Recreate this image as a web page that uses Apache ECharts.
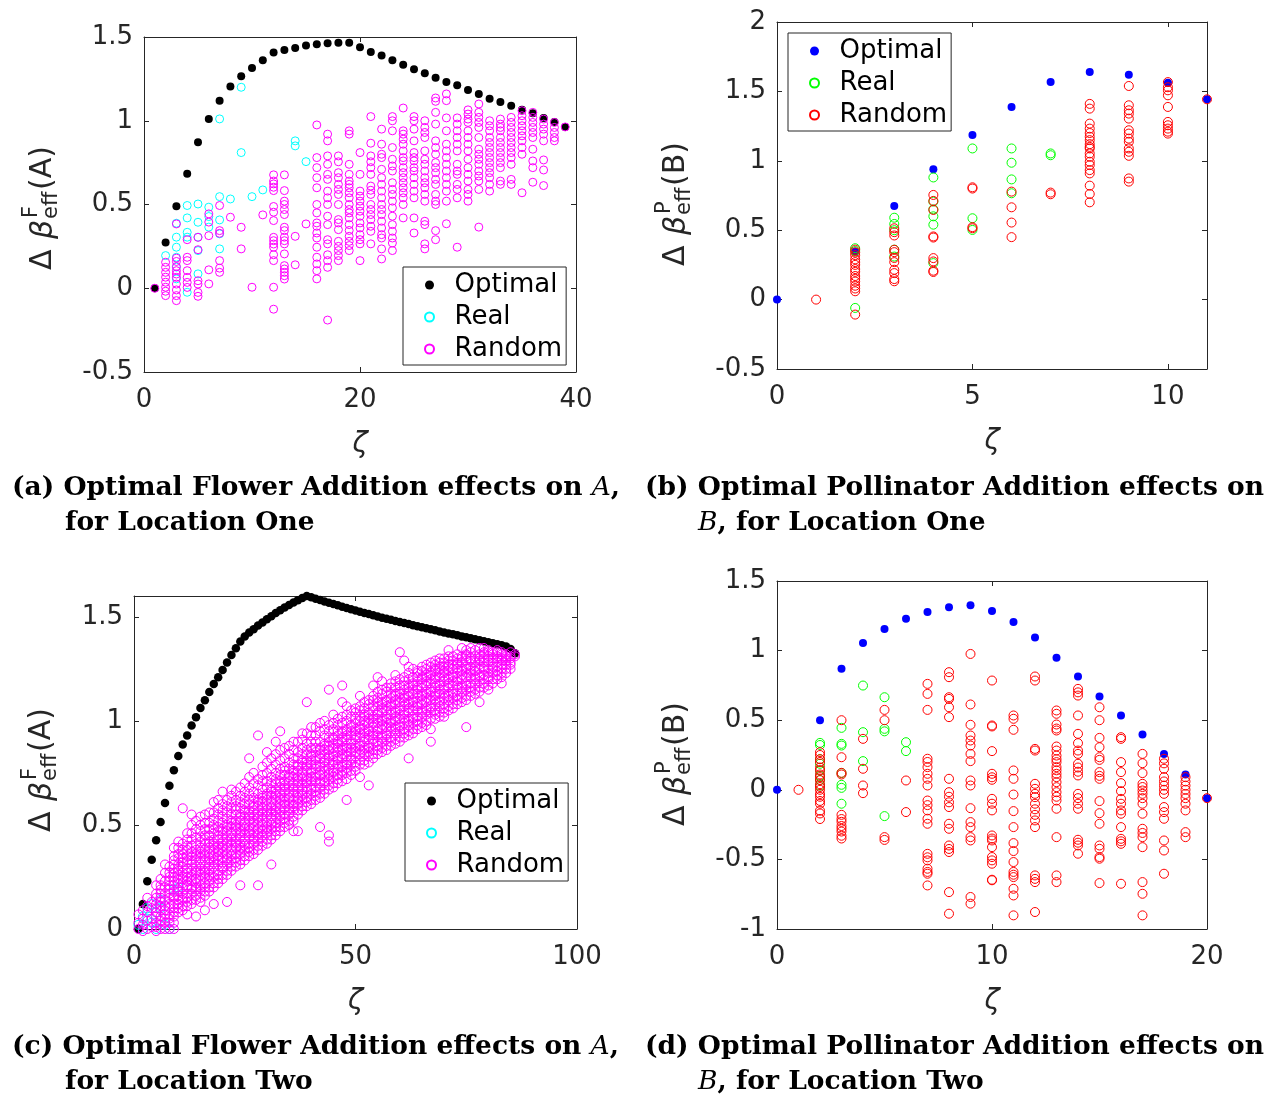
<!DOCTYPE html>
<html><head><meta charset="utf-8">
<script src="https://cdn.jsdelivr.net/npm/echarts@6/dist/echarts.min.js"></script>
<style>html,body{margin:0;padding:0;background:#fff}#chart{width:1272px;height:1097px}</style>
</head><body><div id="chart"></div>
<script>
// ---------- (a) flower addition, location one : zeta = 1..39 ----------
const aOptimal = [0, 0.273, 0.49, 0.683, 0.872, 1.01, 1.12, 1.204, 1.266, 1.315, 1.361, 1.407, 1.423, 1.435, 1.449, 1.457, 1.463, 1.465, 1.465, 1.439, 1.411, 1.389, 1.361, 1.335, 1.307, 1.284, 1.256, 1.232, 1.212, 1.184, 1.16, 1.132, 1.112, 1.089, 1.065, 1.045, 1.017, 0.993, 0.963];
const aReal = [
  [2, [0.195]], [3, [0.388, 0.305, 0.245, 0.185, 0.126, 0.056]], [4, [0.494, 0.42, 0.334, 0.305, -0.024]],
  [5, [0.503, 0.394, 0.305, 0.225, 0.086]], [6, [0.484, 0.428, 0.365]], [7, [1.011, 0.547, 0.408, 0.325, 0.235]],
  [8, [0.533]], [9, [1.2, 0.81]], [10, [0.547]], [11, [0.587]], [14, [0.88, 0.85]], [15, [0.756]]
];
const aRandom = [
  [1, [0]],
  [2, [0.155, 0.125, 0.095, 0.066, 0.036, 0.006, -0.018, -0.044]],
  [3, [0.384, 0.18, 0.16, 0.13, 0.105, 0.085, 0.065, 0.025, -0.01, -0.044, -0.074]],
  [4, [0.29, 0.185, 0.165, 0.105, 0.065, 0.035, 0.005]],
  [5, [0.304, 0.23, 0.045, 0.025, -0.025, -0.048]],
  [6, [0.444, 0.395, 0.314, 0.11, 0.026]],
  [7, [0.494, 0.344, 0.328, 0.165, 0.12, 0.095]],
  [8, [0.424]], [9, [0.364, 0.235]], [10, [0.006]], [11, [0.438]],
  [12, [0.677, 0.64, 0.623, 0.603, 0.583, 0.488, 0.454, 0.404, 0.304, 0.284, 0.264, 0.245, 0.2, 0.165, 0.006, -0.125]],
  [13, [0.677, 0.583, 0.52, 0.5, 0.47, 0.44, 0.364, 0.344, 0.305, 0.284, 0.265, 0.205, 0.135, 0.115, 0.095, 0.075, 0.055]],
  [14, [0.31, 0.14]], [15, [0.384]],
  [16, [0.975, 0.78, 0.72, 0.66, 0.6, 0.5, 0.45, 0.39, 0.37, 0.33, 0.3, 0.245, 0.185, 0.145, 0.105, 0.056]],
  [17, [0.92, 0.88, 0.79, 0.74, 0.68, 0.65, 0.58, 0.54, 0.5, 0.43, 0.38, 0.29, 0.265, 0.2, 0.165, 0.125, -0.19]],
  [18, [0.79, 0.755, 0.69, 0.66, 0.62, 0.59, 0.56, 0.5, 0.41, 0.39, 0.35, 0.28, 0.25, 0.225, 0.195, 0.165]],
  [19, [0.94, 0.92, 0.74, 0.68, 0.64, 0.62, 0.6, 0.57, 0.54, 0.5, 0.47, 0.45, 0.42, 0.38, 0.345, 0.31, 0.28, 0.255, 0.225]],
  [20, [0.81, 0.68, 0.58, 0.55, 0.52, 0.49, 0.46, 0.43, 0.39, 0.36, 0.32, 0.29, 0.265, 0.165]],
  [21, [1.025, 0.866, 0.79, 0.755, 0.72, 0.68, 0.61, 0.585, 0.56, 0.5, 0.47, 0.44, 0.41, 0.37, 0.34, 0.265]],
  [22, [0.95, 0.86, 0.8, 0.78, 0.71, 0.66, 0.62, 0.58, 0.54, 0.5, 0.47, 0.44, 0.4, 0.36, 0.32, 0.3, 0.235, 0.175]],
  [23, [1.025, 1.0, 0.94, 0.84, 0.77, 0.73, 0.7, 0.63, 0.59, 0.56, 0.52, 0.48, 0.43, 0.38, 0.34, 0.3, 0.27, 0.225]],
  [24, [1.076, 0.94, 0.92, 0.89, 0.86, 0.82, 0.78, 0.76, 0.72, 0.69, 0.66, 0.63, 0.6, 0.57, 0.54, 0.5, 0.42]],
  [25, [1.025, 1.0, 0.95, 0.88, 0.81, 0.78, 0.76, 0.72, 0.7, 0.66, 0.62, 0.58, 0.54, 0.42, 0.33]],
  [26, [1.0, 0.96, 0.93, 0.9, 0.82, 0.77, 0.74, 0.7, 0.66, 0.63, 0.6, 0.56, 0.52, 0.4, 0.38, 0.265, 0.235]],
  [27, [1.136, 1.116, 1.05, 0.98, 0.88, 0.84, 0.8, 0.75, 0.72, 0.69, 0.65, 0.62, 0.56, 0.52, 0.5, 0.344, 0.29]],
  [28, [1.16, 1.12, 1.017, 0.94, 0.86, 0.82, 0.78, 0.74, 0.7, 0.66, 0.62, 0.58, 0.52, 0.385]],
  [29, [1.017, 0.98, 0.94, 0.9, 0.86, 0.82, 0.74, 0.7, 0.68, 0.62, 0.59, 0.54, 0.245]],
  [30, [1.065, 1.04, 1.01, 0.99, 0.94, 0.9, 0.86, 0.82, 0.77, 0.72, 0.68, 0.64, 0.59, 0.56, 0.52]],
  [31, [1.1, 1.05, 1.02, 0.99, 0.96, 0.9, 0.83, 0.8, 0.77, 0.74, 0.7, 0.67, 0.64, 0.59, 0.365]],
  [32, [1.0, 0.97, 0.94, 0.9, 0.87, 0.84, 0.81, 0.78, 0.75, 0.72, 0.69, 0.66, 0.62, 0.58]],
  [33, [1.01, 0.98, 0.96, 0.94, 0.9, 0.87, 0.84, 0.81, 0.78, 0.75, 0.72, 0.64, 0.62]],
  [34, [1.02, 0.99, 0.96, 0.93, 0.9, 0.87, 0.84, 0.81, 0.78, 0.74, 0.65, 0.62]],
  [35, [1.06, 1.03, 1.0, 0.97, 0.94, 0.91, 0.88, 0.84, 0.8, 0.57]],
  [36, [1.05, 1.02, 0.99, 0.96, 0.93, 0.9, 0.83, 0.76, 0.72, 0.633]],
  [37, [1.01, 0.98, 0.95, 0.92, 0.88, 0.766, 0.706, 0.613]],
  [38, [0.99, 0.96, 0.93, 0.9, 0.88]],
  [39, [0.963]]
];

// ---------- (b) pollinator addition, location one ----------
const bOptimal = [[0, 0], [2, 0.347], [3, 0.675], [4, 0.94], [5, 1.185], [6, 1.388], [7, 1.567], [8, 1.639], [9, 1.62], [10, 1.563], [11, 1.443]];
const bReal = [
  [2, [0.37, 0.35, -0.06]], [3, [0.59, 0.545, 0.5, 0.36, 0.31]], [4, [0.88, 0.706, 0.65, 0.6, 0.54, 0.263]],
  [5, [1.089, 0.586, 0.502]], [6, [1.089, 0.986, 0.866, 0.766]], [7, [1.053, 1.04]]
];
const bRandom = [
  [1, [0]],
  [2, [0.36, 0.34, 0.32, 0.29, 0.27, 0.25, 0.22, 0.2, 0.17, 0.15, 0.13, 0.1, 0.08, 0.06, -0.108]],
  [3, [0.514, 0.486, 0.462, 0.359, 0.342, 0.3, 0.27, 0.215, 0.191, 0.148, 0.132]],
  [4, [0.754, 0.711, 0.646, 0.455, 0.447, 0.299, 0.275, 0.208, 0.199]],
  [5, [0.809, 0.8, 0.522, 0.514]],
  [6, [0.778, 0.665, 0.555, 0.45]],
  [7, [0.771, 0.759]],
  [8, [1.41, 1.376, 1.268, 1.232, 1.2, 1.173, 1.149, 1.12, 1.1, 1.089, 1.053, 1.029, 0.993, 0.969, 0.933, 0.909, 0.821, 0.761, 0.701]],
  [9, [1.539, 1.4, 1.364, 1.34, 1.304, 1.22, 1.196, 1.16, 1.137, 1.089, 1.065, 1.036, 0.873, 0.85]],
  [10, [1.567, 1.53, 1.508, 1.472, 1.388, 1.28, 1.256, 1.232, 1.21, 1.196]],
  [11, [1.443]]
];

// ---------- (c) flower addition, location two : zeta = 1..86 ----------
const cOptimal = [0, 0.12, 0.23, 0.333, 0.427, 0.514, 0.605, 0.688, 0.763, 0.831, 0.887, 0.93, 0.978, 1.018, 1.062, 1.099, 1.139, 1.177, 1.21, 1.245, 1.28, 1.317, 1.349, 1.381, 1.405, 1.425, 1.44, 1.458, 1.473, 1.488, 1.503, 1.518, 1.532, 1.545, 1.557, 1.569, 1.58, 1.59, 1.6, 1.594, 1.587, 1.581, 1.574, 1.568, 1.561, 1.555, 1.548, 1.542, 1.536, 1.53, 1.524, 1.518, 1.513, 1.507, 1.502, 1.496, 1.491, 1.486, 1.48, 1.475, 1.47, 1.465, 1.46, 1.455, 1.45, 1.445, 1.44, 1.435, 1.43, 1.425, 1.42, 1.416, 1.411, 1.406, 1.402, 1.397, 1.392, 1.387, 1.383, 1.378, 1.373, 1.368, 1.363, 1.357, 1.345, 1.325];
const cReal = [
  [1, [0.02]], [2, [0.06, 0.0]], [3, [0.1, 0.05]], [4, [0.12, 0.03]], [5, [0.08, 0.0]],
  [6, [0.14, 0.1]], [7, [0.02]], [8, [0.0]], [9, [0.19]], [10, [0.2]]
];
const cRandom = [
  [1, [0.0, 0.03, 0.07]], [2, [-0.01, 0.02, 0.05, 0.09]], [3, [0.0, 0.04, 0.08, 0.11, 0.15]], [4, [0.01, 0.05, 0.1, 0.13]],
  [5, [-0.01, 0.03, 0.08, 0.12, 0.17, 0.21]], [6, [0.02, 0.06, 0.11, 0.15, 0.19, 0.24]], [7, [0.0, 0.05, 0.09, 0.14, 0.2, 0.27, 0.31]],
  [8, [0.03, 0.07, 0.12, 0.17, 0.21, 0.25, 0.3]], [9, [0.0, 0.06, 0.1, 0.15, 0.18, 0.23, 0.27, 0.31, 0.35, 0.39]],
  [10, [0.08, 0.12, 0.16, 0.19, 0.24, 0.28, 0.31, 0.36, 0.42]], [11, [0.09, 0.14, 0.17, 0.22, 0.25, 0.3, 0.34, 0.38, 0.58]],
  [12, [0.11, 0.15, 0.2, 0.23, 0.27, 0.32, 0.35, 0.4, 0.46]], [13, [0.12, 0.17, 0.2, 0.25, 0.28, 0.33, 0.37, 0.43, 0.5, 0.55]],
  [14, [0.06, 0.14, 0.19, 0.22, 0.27, 0.3, 0.35, 0.38, 0.44, 0.52]], [15, [0.13, 0.18, 0.21, 0.26, 0.29, 0.34, 0.37, 0.42, 0.47, 0.54]],
  [16, [0.16, 0.2, 0.25, 0.28, 0.33, 0.36, 0.41, 0.45, 0.51]], [17, [0.18, 0.23, 0.26, 0.31, 0.34, 0.39, 0.42, 0.48, 0.56]],
  [18, [0.2, 0.25, 0.3, 0.33, 0.38, 0.41, 0.46, 0.5, 0.56, 0.61]], [19, [0.22, 0.26, 0.31, 0.35, 0.38, 0.43, 0.47, 0.52, 0.58]],
  [20, [0.24, 0.29, 0.32, 0.37, 0.4, 0.45, 0.48, 0.54, 0.6, 0.66]], [21, [0.13, 0.26, 0.31, 0.34, 0.39, 0.42, 0.47, 0.5, 0.56, 0.62]],
  [22, [0.28, 0.33, 0.36, 0.41, 0.44, 0.49, 0.52, 0.58, 0.64]], [23, [0.3, 0.34, 0.39, 0.42, 0.47, 0.5, 0.55, 0.59, 0.66]],
  [24, [0.31, 0.36, 0.39, 0.44, 0.47, 0.52, 0.55, 0.61, 0.68]], [25, [0.33, 0.38, 0.41, 0.46, 0.49, 0.54, 0.57, 0.63, 0.7]],
  [26, [0.35, 0.39, 0.44, 0.47, 0.52, 0.55, 0.6, 0.65, 0.73]], [27, [0.36, 0.41, 0.44, 0.49, 0.52, 0.57, 0.6, 0.66, 0.75]],
  [28, [0.21, 0.38, 0.43, 0.46, 0.51, 0.54, 0.59, 0.62, 0.69, 0.93]], [29, [0.4, 0.45, 0.48, 0.53, 0.56, 0.61, 0.64, 0.71, 0.78]],
  [30, [0.41, 0.46, 0.49, 0.54, 0.57, 0.62, 0.65, 0.71, 0.8]], [31, [0.43, 0.48, 0.51, 0.56, 0.59, 0.64, 0.67, 0.73, 0.82]],
  [32, [0.45, 0.49, 0.54, 0.57, 0.62, 0.65, 0.7, 0.75, 0.84]], [33, [0.47, 0.52, 0.55, 0.6, 0.63, 0.68, 0.71, 0.77, 0.86, 0.95]],
  [34, [0.49, 0.53, 0.58, 0.61, 0.66, 0.69, 0.74, 0.78, 0.87]], [35, [0.5, 0.55, 0.58, 0.63, 0.66, 0.71, 0.74, 0.8, 0.88]],
  [36, [0.52, 0.57, 0.6, 0.65, 0.68, 0.73, 0.76, 0.82, 0.9]], [37, [0.47, 0.55, 0.6, 0.63, 0.68, 0.71, 0.76, 0.79, 0.85]],
  [38, [0.57, 0.62, 0.65, 0.7, 0.73, 0.78, 0.81, 0.87, 0.94]], [39, [0.59, 0.63, 0.68, 0.71, 0.76, 0.79, 0.84, 0.89, 1.09]],
  [40, [0.6, 0.65, 0.68, 0.73, 0.76, 0.81, 0.84, 0.9, 0.97]], [41, [0.62, 0.66, 0.71, 0.74, 0.79, 0.82, 0.87, 0.93]],
  [42, [0.49, 0.63, 0.68, 0.71, 0.76, 0.79, 0.84, 0.87, 0.95]], [43, [0.65, 0.7, 0.73, 0.78, 0.81, 0.86, 0.89, 0.96]],
  [44, [0.42, 0.45, 0.67, 0.72, 0.75, 0.8, 0.83, 0.88, 0.92, 0.98]], [45, [0.68, 0.73, 0.76, 0.81, 0.84, 0.89, 0.92, 0.99]],
  [46, [0.7, 0.74, 0.79, 0.82, 0.87, 0.9, 0.95, 1.01]], [47, [0.71, 0.76, 0.79, 0.84, 0.87, 0.92, 0.95, 1.02, 1.09, 1.17]],
  [48, [0.72, 0.77, 0.8, 0.85, 0.88, 0.93, 0.96, 1.03]], [49, [0.74, 0.79, 0.82, 0.87, 0.9, 0.95, 0.98, 1.05]],
  [50, [0.76, 0.8, 0.85, 0.88, 0.93, 0.96, 1.01, 1.06]], [51, [0.73, 0.81, 0.86, 0.89, 0.94, 0.97, 1.02, 1.07]],
  [52, [0.79, 0.84, 0.87, 0.92, 0.95, 1.0, 1.03, 1.09]], [53, [0.8, 0.85, 0.88, 0.93, 0.96, 1.01, 1.04, 1.1]],
  [54, [0.82, 0.86, 0.91, 0.94, 0.99, 1.02, 1.07, 1.12]], [55, [0.84, 0.88, 0.93, 0.96, 1.01, 1.04, 1.09, 1.14, 1.21]],
  [56, [0.85, 0.9, 0.93, 0.98, 1.01, 1.06, 1.09, 1.15]], [57, [0.86, 0.91, 0.94, 0.99, 1.02, 1.07, 1.1, 1.16]],
  [58, [0.88, 0.92, 0.97, 1.0, 1.05, 1.08, 1.13, 1.18]], [59, [0.89, 0.94, 0.97, 1.02, 1.05, 1.1, 1.13, 1.19]],
  [60, [0.9, 0.95, 0.98, 1.03, 1.06, 1.11, 1.14, 1.2, 1.33]], [61, [0.92, 0.96, 1.01, 1.04, 1.09, 1.12, 1.17, 1.21, 1.29]],
  [62, [0.93, 0.98, 1.01, 1.06, 1.09, 1.14, 1.17, 1.23]], [63, [0.94, 0.99, 1.02, 1.07, 1.1, 1.15, 1.18, 1.25]],
  [64, [0.96, 1.0, 1.05, 1.08, 1.13, 1.16, 1.21, 1.24]], [65, [0.97, 1.02, 1.05, 1.1, 1.13, 1.18, 1.21, 1.26]],
  [66, [0.98, 1.03, 1.06, 1.11, 1.14, 1.19, 1.22, 1.27]], [67, [0.96, 1.04, 1.07, 1.12, 1.15, 1.2, 1.23, 1.28]],
  [68, [1.01, 1.05, 1.1, 1.13, 1.18, 1.21, 1.25, 1.29]], [69, [1.02, 1.07, 1.1, 1.15, 1.18, 1.23, 1.26, 1.3]],
  [70, [1.04, 1.08, 1.13, 1.16, 1.21, 1.24, 1.28]], [71, [1.05, 1.1, 1.13, 1.18, 1.21, 1.26, 1.29]],
  [72, [1.06, 1.11, 1.14, 1.19, 1.22, 1.27, 1.31]], [73, [1.08, 1.12, 1.17, 1.2, 1.25, 1.28, 1.32]],
  [74, [1.09, 1.14, 1.17, 1.22, 1.25, 1.3, 1.35]], [75, [1.1, 1.15, 1.18, 1.23, 1.26, 1.31, 1.34]],
  [76, [1.12, 1.16, 1.21, 1.24, 1.29, 1.33]], [77, [1.13, 1.18, 1.21, 1.26, 1.29, 1.34]],
  [78, [1.14, 1.19, 1.22, 1.27, 1.3, 1.35]], [79, [1.16, 1.2, 1.25, 1.28, 1.32, 1.35]],
  [80, [1.15, 1.2, 1.23, 1.28, 1.31, 1.34]], [81, [1.18, 1.23, 1.26, 1.3, 1.33]],
  [82, [1.2, 1.24, 1.28, 1.31, 1.34]], [83, [1.18, 1.23, 1.27, 1.3, 1.33]],
  [84, [1.23, 1.27, 1.3, 1.32]], [85, [1.25, 1.28, 1.31]], [86, [1.32]]
];
// second batch of random trials for location two (denser core and outliers)
const cRandomMore = [
  [5, [0.01, 0.06, 0.1, 0.15]], [6, [0.0, 0.04, 0.09, 0.13, 0.17, 0.21]], [7, [0.03, 0.07, 0.11, 0.17, 0.23]],
  [8, [0.0, 0.05, 0.1, 0.15, 0.19, 0.23, 0.27]], [9, [0.03, 0.08, 0.12, 0.16, 0.21, 0.25, 0.29, 0.33]],
  [10, [0.1, 0.14, 0.18, 0.22, 0.26, 0.29, 0.34, 0.39]], [11, [0.11, 0.15, 0.2, 0.24, 0.27, 0.32, 0.36, 0.41]],
  [12, [0.07, 0.13, 0.17, 0.21, 0.25, 0.29, 0.33, 0.38, 0.43]], [13, [0.14, 0.19, 0.23, 0.26, 0.31, 0.35, 0.4, 0.46]],
  [14, [0.16, 0.2, 0.24, 0.28, 0.33, 0.36, 0.41, 0.48]], [15, [0.15, 0.2, 0.23, 0.28, 0.31, 0.36, 0.39, 0.44, 0.5]],
  [16, [0.09, 0.18, 0.22, 0.27, 0.3, 0.35, 0.38, 0.43, 0.48, 0.55]], [17, [0.2, 0.25, 0.28, 0.33, 0.36, 0.41, 0.45, 0.51]],
  [18, [0.12, 0.22, 0.27, 0.32, 0.35, 0.4, 0.43, 0.48, 0.53]], [19, [0.24, 0.28, 0.33, 0.37, 0.4, 0.45, 0.49, 0.55, 0.62]],
  [20, [0.26, 0.3, 0.34, 0.39, 0.42, 0.47, 0.51, 0.57]], [21, [0.28, 0.33, 0.36, 0.41, 0.44, 0.49, 0.53, 0.59]],
  [22, [0.3, 0.35, 0.38, 0.43, 0.46, 0.51, 0.55, 0.61, 0.67]], [23, [0.32, 0.36, 0.41, 0.44, 0.49, 0.52, 0.57, 0.62]],
  [24, [0.21, 0.33, 0.38, 0.41, 0.46, 0.49, 0.54, 0.58, 0.64]], [25, [0.35, 0.4, 0.43, 0.48, 0.51, 0.56, 0.6, 0.66]],
  [26, [0.37, 0.41, 0.46, 0.49, 0.54, 0.57, 0.62, 0.68, 0.82]], [27, [0.38, 0.43, 0.46, 0.51, 0.54, 0.59, 0.63, 0.7]],
  [28, [0.4, 0.45, 0.48, 0.53, 0.56, 0.61, 0.65, 0.72]], [29, [0.42, 0.47, 0.5, 0.55, 0.58, 0.63, 0.67, 0.74]],
  [30, [0.43, 0.48, 0.51, 0.56, 0.59, 0.64, 0.68, 0.75, 0.85]], [31, [0.31, 0.45, 0.5, 0.53, 0.58, 0.61, 0.66, 0.7, 0.77]],
  [32, [0.47, 0.51, 0.56, 0.59, 0.64, 0.67, 0.72, 0.79, 0.9]], [33, [0.49, 0.54, 0.57, 0.62, 0.65, 0.7, 0.74, 0.81]],
  [34, [0.51, 0.55, 0.6, 0.63, 0.68, 0.71, 0.76, 0.82]], [35, [0.52, 0.57, 0.6, 0.65, 0.68, 0.73, 0.77, 0.84]],
  [36, [0.47, 0.54, 0.59, 0.62, 0.67, 0.7, 0.75, 0.79, 0.86]], [37, [0.57, 0.62, 0.65, 0.7, 0.73, 0.78, 0.82, 0.9]],
  [38, [0.59, 0.64, 0.67, 0.72, 0.75, 0.8, 0.84, 0.91]], [39, [0.61, 0.66, 0.7, 0.73, 0.78, 0.81, 0.86, 0.94]],
  [40, [0.62, 0.67, 0.71, 0.75, 0.79, 0.83, 0.87, 0.93]], [41, [0.64, 0.68, 0.73, 0.77, 0.81, 0.85, 0.9, 0.97]],
  [42, [0.65, 0.7, 0.74, 0.78, 0.82, 0.86, 0.9, 0.99]], [43, [0.67, 0.71, 0.76, 0.8, 0.84, 0.88, 0.93, 1.0]],
  [44, [0.69, 0.74, 0.77, 0.82, 0.86, 0.9, 0.95, 1.15]], [45, [0.7, 0.75, 0.79, 0.83, 0.87, 0.91, 0.96, 1.03]],
  [46, [0.72, 0.77, 0.81, 0.85, 0.89, 0.93, 0.98]], [47, [0.74, 0.78, 0.82, 0.86, 0.9, 0.94, 0.99]],
  [48, [0.62, 0.75, 0.79, 0.83, 0.87, 0.91, 0.95, 1.0, 1.07]], [49, [0.76, 0.81, 0.85, 0.89, 0.93, 0.97, 1.02]],
  [50, [0.78, 0.83, 0.87, 0.91, 0.95, 0.99, 1.04]], [51, [0.79, 0.84, 0.88, 0.92, 0.96, 1.0, 1.05, 1.12]],
  [52, [0.81, 0.86, 0.9, 0.94, 0.98, 1.02, 1.06]], [53, [0.69, 0.83, 0.87, 0.91, 0.95, 0.99, 1.03, 1.08]],
  [54, [0.84, 0.89, 0.93, 0.97, 1.01, 1.05, 1.1, 1.17]], [55, [0.86, 0.9, 0.95, 0.99, 1.03, 1.07, 1.11]],
  [56, [0.87, 0.92, 0.96, 1.0, 1.04, 1.08, 1.13, 1.19]], [57, [0.88, 0.93, 0.97, 1.01, 1.05, 1.09, 1.14]],
  [58, [0.9, 0.95, 0.99, 1.03, 1.07, 1.11, 1.16]], [59, [0.91, 0.96, 1.0, 1.04, 1.08, 1.12, 1.16, 1.22]],
  [60, [0.92, 0.97, 1.01, 1.05, 1.09, 1.13, 1.17]], [61, [0.94, 0.99, 1.03, 1.07, 1.11, 1.15, 1.19]],
  [62, [0.82, 0.95, 1.0, 1.04, 1.08, 1.12, 1.16, 1.2, 1.26]], [63, [0.96, 1.01, 1.05, 1.09, 1.13, 1.17, 1.21]],
  [64, [0.98, 1.02, 1.07, 1.11, 1.15, 1.19, 1.23]], [65, [0.99, 1.04, 1.08, 1.12, 1.16, 1.2, 1.24]],
  [66, [1.0, 1.05, 1.09, 1.13, 1.17, 1.21, 1.25]], [67, [0.9, 1.01, 1.06, 1.1, 1.14, 1.18, 1.22, 1.26]],
  [68, [1.03, 1.08, 1.12, 1.16, 1.2, 1.24, 1.27]], [69, [1.04, 1.09, 1.13, 1.17, 1.21, 1.25, 1.28]],
  [70, [1.02, 1.06, 1.11, 1.15, 1.19, 1.23, 1.26, 1.3]], [71, [1.07, 1.12, 1.16, 1.2, 1.24, 1.27, 1.31, 1.34]],
  [72, [1.08, 1.13, 1.17, 1.21, 1.25, 1.29]], [73, [1.1, 1.15, 1.19, 1.23, 1.27, 1.3]],
  [74, [1.11, 1.16, 1.2, 1.24, 1.28, 1.31]], [75, [0.97, 1.12, 1.17, 1.21, 1.25, 1.29, 1.32]],
  [76, [1.14, 1.18, 1.23, 1.26, 1.3, 1.35]], [77, [1.15, 1.2, 1.24, 1.28, 1.31]],
  [78, [1.09, 1.16, 1.21, 1.25, 1.29, 1.32]], [79, [1.18, 1.22, 1.26, 1.3, 1.33]],
  [80, [1.17, 1.21, 1.25, 1.3, 1.33]], [81, [1.2, 1.25, 1.28, 1.32]],
  [82, [1.22, 1.26, 1.3, 1.33]], [83, [1.21, 1.25, 1.29, 1.32]],
  [84, [1.25, 1.29, 1.31]], [85, [1.27, 1.3, 1.33]], [86, [1.31]]
];

// ---------- (d) pollinator addition, location two ----------
const dOptimal = [[0, 0], [2, 0.5], [3, 0.869], [4, 1.055], [5, 1.156], [6, 1.228], [7, 1.278], [8, 1.311], [9, 1.326], [10, 1.285], [11, 1.206], [12, 1.094], [13, 0.948], [14, 0.814], [15, 0.67], [16, 0.534], [17, 0.397], [18, 0.258], [19, 0.11], [20, -0.06]];
const dReal = [
  [2, [0.337, 0.322, 0.22, 0.187, 0.14, 0.1, 0.07, 0.03]], [3, [0.445, 0.33, 0.318, 0.12, 0.036, 0.014, -0.1]],
  [4, [0.749, 0.414, 0.206]], [5, [0.665, 0.438, 0.42, -0.189]], [6, [0.342, 0.278]]
];
const dRandom = [
  [1, [0]],
  [2, [0.27, 0.25, 0.22, 0.2, 0.16, 0.14, 0.11, 0.09, 0.07, 0.04, 0.02, 0.0, -0.03, -0.05, -0.08, -0.1, -0.15, -0.17, -0.21]],
  [3, [0.5, 0.234, 0.122, 0.11, -0.18, -0.21, -0.23, -0.26, -0.28, -0.3, -0.33, -0.35]],
  [4, [0.366, 0.151, 0.031, -0.024]],
  [5, [0.574, 0.5, -0.34, -0.36]],
  [6, [0.067, -0.16]],
  [7, [0.761, 0.689, 0.574, 0.223, 0.2, 0.163, 0.115, 0.079, 0.031, -0.077, -0.11, -0.148, -0.208, -0.244, -0.46, -0.485, -0.507, -0.567, -0.59, -0.603, -0.687]],
  [8, [0.845, 0.809, 0.665, 0.653, 0.593, 0.522, 0.079, -0.017, -0.05, -0.09, -0.124, -0.244, -0.28, -0.4, -0.425, -0.447, -0.735, -0.89]],
  [9, [0.976, 0.613, 0.467, 0.39, 0.354, 0.318, 0.258, 0.206, 0.067, 0.031, -0.132, -0.232, -0.268, -0.34, -0.364, -0.77, -0.818]],
  [10, [0.785, 0.462, 0.455, 0.278, 0.115, 0.09, 0.072, -0.065, -0.1, -0.148, -0.328, -0.35, -0.364, -0.412, -0.483, -0.507, -0.531, -0.646, -0.65]],
  [11, [0.534, 0.51, 0.431, 0.139, 0.079, -0.034, -0.153, -0.268, -0.383, -0.44, -0.519, -0.59, -0.61, -0.627, -0.711, -0.759, -0.902]],
  [12, [0.814, 0.785, 0.294, 0.282, 0.043, 0.007, -0.029, -0.053, -0.1, -0.14, -0.18, -0.22, -0.268, -0.615, -0.64, -0.663, -0.878]],
  [13, [0.57, 0.546, 0.469, 0.44, 0.426, 0.311, 0.282, 0.246, 0.22, 0.199, 0.163, 0.14, 0.115, 0.091, 0.055, 0.019, -0.017, -0.05, -0.077, -0.136, -0.34, -0.615, -0.663]],
  [14, [0.725, 0.7, 0.677, 0.534, 0.402, 0.335, 0.282, 0.258, 0.187, 0.16, 0.13, 0.103, -0.029, -0.06, -0.1, -0.136, -0.359, -0.38, -0.4, -0.459]],
  [15, [0.593, 0.5, 0.373, 0.306, 0.234, 0.215, 0.127, 0.1, 0.079, -0.081, -0.168, -0.244, -0.4, -0.424, -0.483, -0.495, -0.67]],
  [16, [0.378, 0.366, 0.199, 0.127, 0.048, -0.01, -0.065, -0.1, -0.148, -0.172, -0.268, -0.352, -0.37, -0.388, -0.675]],
  [17, [0.258, 0.191, 0.12, 0.043, 0.02, -0.005, -0.029, -0.06, -0.1, -0.172, -0.28, -0.31, -0.34, -0.412, -0.663, -0.747, -0.902]],
  [18, [0.223, 0.19, 0.151, 0.091, 0.06, 0.03, 0.0, -0.029, -0.124, -0.16, -0.208, -0.364, -0.436, -0.603]],
  [19, [0.091, 0.06, 0.03, 0.0, -0.03, -0.06, -0.1, -0.148, -0.304, -0.34]],
  [20, [-0.06]]
];

// ---------- axis ranges: [min, max, tick interval] ----------
const aX = [0, 40, 20], aY = [-0.5, 1.5, 0.5];
const bX = [0, 11, 5], bY = [-0.5, 2, 0.5];
const cX = [0, 100, 50], cY = [0, 1.6, 0.5];
const dX = [0, 20, 10], dY = [-1, 1.5, 0.5];

const legendNames = ['Optimal', 'Real', 'Random'];

// ---------- helpers ----------
const INK = '#262626';
const SANS = 'DejaVu Sans';
const flatten = cols => { const out = []; cols.forEach(([x, ys]) => ys.forEach(y => out.push([x, y]))); return out; };
const indexed = vals => vals.map((v, i) => [i + 1, v]);

const grids = [
  { left: 144, top: 37, width: 432, height: 335 },
  { left: 777, top: 22, width: 430, height: 347 },
  { left: 134, top: 596, width: 443, height: 333 },
  { left: 777, top: 581, width: 430, height: 348 }
];

function makeAxes(dim, gi, [min, max, interval]) {
  const common = {
    type: 'value', gridIndex: gi, min, max, interval,
    splitLine: { show: false },
    axisLine: { show: true, onZero: false, lineStyle: { color: INK, width: 1 } },
    axisTick: { show: true, inside: true, length: 5, lineStyle: { color: INK } }
  };
  const main = Object.assign({}, common, {
    position: dim === 'x' ? 'bottom' : 'left',
    axisLabel: { show: true, fontFamily: SANS, fontSize: 26, color: INK, margin: dim === 'x' ? 15 : 11, showMaxLabel: (max / interval) % 1 === 0 }
  });
  if (dim === 'x') {
    Object.assign(main, { name: 'ζ', nameLocation: 'middle', nameGap: 59, nameTextStyle: { fontFamily: SANS, fontStyle: 'italic', fontSize: 28, color: INK } });
  }
  const mirror = Object.assign({}, common, { position: dim === 'x' ? 'top' : 'right', axisLabel: { show: false } });
  return [main, mirror];
}

const xAxis = [], yAxis = [];
[[aX, aY], [bX, bY], [cX, cY], [dX, dY]].forEach(([xs, ys], gi) => {
  xAxis.push(...makeAxes('x', gi, xs));
  yAxis.push(...makeAxes('y', gi, ys));
});

function dots(panel, gi, name, data, color, size, filled) {
  return {
    type: 'scatter', name: panel + ':' + name, xAxisIndex: gi * 2, yAxisIndex: gi * 2,
    data, symbol: 'circle', symbolSize: size, clip: false, silent: true,
    itemStyle: filled ? { color, opacity: 1 } : { color: 'rgba(255,255,255,0)', borderColor: color, borderWidth: 1, opacity: 1 }
  };
}

const series = [
  dots('a', 0, 'Optimal', indexed(aOptimal), '#000000', 8, true),
  dots('a', 0, 'Real', flatten(aReal), '#00ffff', 8, false),
  dots('a', 0, 'Random', flatten(aRandom), '#ff00ff', 8, false),
  dots('b', 1, 'Optimal', bOptimal, '#0000ff', 8, true),
  dots('b', 1, 'Real', flatten(bReal), '#00ff00', 9, false),
  dots('b', 1, 'Random', flatten(bRandom), '#ff0000', 9, false),
  dots('c', 2, 'Optimal', indexed(cOptimal), '#000000', 8.5, true),
  dots('c', 2, 'Real', flatten(cReal), '#00ffff', 9, false),
  dots('c', 2, 'Random', flatten(cRandom).concat(flatten(cRandomMore)), '#ff00ff', 9, false),
  dots('d', 3, 'Optimal', dOptimal, '#0000ff', 8, true),
  dots('d', 3, 'Real', flatten(dReal), '#00ff00', 9, false),
  dots('d', 3, 'Random', flatten(dRandom), '#ff0000', 9, false)
];

function legendBox(panel, left, top) {
  return {
    show: true, orient: 'vertical', left, top,
    data: legendNames.map(n => ({ name: panel + ':' + n, icon: 'circle' })),
    formatter: n => n.split(':')[1],
    selectedMode: false,
    backgroundColor: '#ffffff', borderColor: INK, borderWidth: 1,
    padding: [5, 4, 3, 21], itemGap: 6, itemWidth: 40, itemHeight: 9,
    textStyle: { fontFamily: SANS, fontSize: 26, lineHeight: 26, color: '#000' }
  };
}

// rotated y-axis title: Δ β^sup_eff(letter)
function yTitle(cx, cy, sup, letter) {
  const t = (x, y, text, font) => ({
    type: 'text', x, y,
    style: { text, font, fill: INK, align: 'left', textAlign: 'left', verticalAlign: 'middle', textVerticalAlign: 'middle' }
  });
  return {
    type: 'group', x: cx, y: cy, rotation: Math.PI / 2, silent: true,
    children: [
      t(-71, 0, 'Δ', '30px ' + SANS),
      t(-40, 1, 'β', 'italic 30px ' + SANS),
      t(-19, -11, sup, '21px ' + SANS),
      t(-20, 9, 'eff', '21px ' + SANS),
      t(9, 0, '(' + letter + ')', '30px ' + SANS)
    ]
  };
}

function caption(x, y, text) {
  return {
    type: 'text', x, y, silent: true,
    style: {
      text, fill: '#000', align: 'left', textAlign: 'left', verticalAlign: 'middle', textVerticalAlign: 'middle',
      rich: {
        b: { fontFamily: 'DejaVu Serif', fontWeight: 'bold', fontSize: 26.5, fill: '#000' },
        i: { fontFamily: 'DejaVu Serif', fontStyle: 'italic', fontSize: 26.5, fill: '#000' }
      }
    }
  };
}

const graphics = [
  yTitle(43, 199, 'F', 'A'),
  yTitle(676, 195, 'P', 'B'),
  yTitle(42, 761, 'F', 'A'),
  yTitle(676, 755, 'P', 'B'),
  caption(12, 488, '{b|(a) Optimal Flower Addition effects on }{i|A}{b|,}'),
  caption(65, 523, '{b|for Location One}'),
  caption(645, 488, '{b|(b) Optimal Pollinator Addition effects on}'),
  caption(698, 523, '{i|B}{b|, for Location One}'),
  caption(12, 1047, '{b|(c) Optimal Flower Addition effects on }{i|A}{b|,}'),
  caption(65, 1082, '{b|for Location Two}'),
  caption(645, 1047, '{b|(d) Optimal Pollinator Addition effects on}'),
  caption(698, 1082, '{i|B}{b|, for Location Two}')
];

const chart = echarts.init(document.getElementById('chart'), null, { renderer: 'canvas' });
chart.setOption({
  animation: false,
  backgroundColor: '#ffffff',
  grid: grids,
  xAxis, yAxis,
  legend: [legendBox('a', 403, 267), legendBox('b', 788, 33), legendBox('c', 405, 783)],
  series,
  graphic: { elements: graphics }
});
</script></body></html>
